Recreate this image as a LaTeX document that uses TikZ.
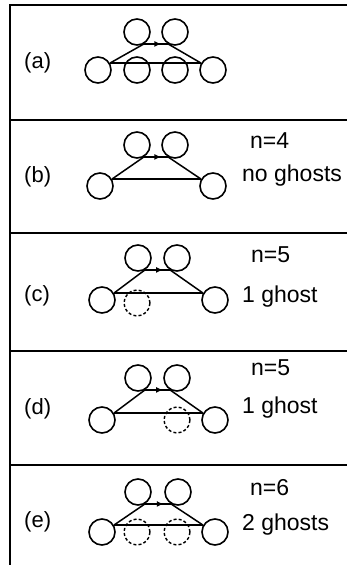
\documentclass[tikz,border=0pt]{standalone}
\usepackage{fontspec}
\setmainfont{Liberation Sans}
\usetikzlibrary{arrows.meta,decorations.markings}

\tikzset{
  ball/.style={circle, draw, line width=1.6pt, minimum size=26pt, inner sep=0pt},
  ghost/.style={ball, line width=1.4pt, dash pattern=on 3pt off 2.2pt},
  bond/.style={line width=1.5pt},
  hop/.style={line width=2.6pt, postaction={decorate},
    decoration={markings, mark=at position 0.72 with {\arrow{Latex[length=7pt,width=6pt]}}}},
  tag/.style={font=\fontsize{22}{24}\selectfont, anchor=base west, inner sep=0pt},
  note/.style={font=\fontsize{23}{25}\selectfont, anchor=base west, inner sep=0pt},
}

\begin{document}
\begin{tikzpicture}[x=1pt,y=-1pt]
\useasboundingbox (0,0) rectangle (347,565);
% frame
\draw [line width=1.4pt] (10,565) -- (10,5) -- (347,5);
\draw [line width=1.4pt] (10,120) -- (347,120);
\draw [line width=1.4pt] (10,233) -- (347,233);
\draw [line width=1.4pt] (10,351) -- (347,351);
\draw [line width=1.4pt] (10,465) -- (347,465);

% (a)
\node [tag] (la) at (24,68) {(a)};
\node [ball] (a1) at (137,32) {};
\node [ball] (a2) at (175,32) {};
\node [ball] (a3) at (98,70) {};
\node [ball] (a4) at (213,70) {};
\node [ball] (a5) at (137,70) {};
\node [ball] (a6) at (175,70) {};
\draw [bond] (a3.30) -- (a1.-60);
\draw [hop] (a1.-60) -- (a2.-120);
\draw [bond] (a2.-120) -- (a4.150);
\draw [bond] (a3.30) -- (a4.150);

% (b)
\node [tag] (lb) at (24,182) {(b)};
\node [ball] (b1) at (137,145) {};
\node [ball] (b2) at (175,145) {};
\node [ball] (b3) at (100,186) {};
\node [ball] (b4) at (213,186) {};
\draw [bond] (b3.30) -- (b1.-60);
\draw [hop] (b1.-60) -- (b2.-120);
\draw [bond] (b2.-120) -- (b4.150);
\draw [bond] (b3.30) -- (b4.150);
\node [note] (nb) at (250,148) {n=4};
\node [note] (gb) at (242,181) {no ghosts};

% (c)
\node [tag] (lc) at (24,301) {(c)};
\node [ball] (c1) at (138,258) {};
\node [ball] (c2) at (177,258) {};
\node [ball] (c3) at (102,300) {};
\node [ball] (c4) at (215,300) {};
\node [ghost] (c5) at (137,303) {};
\draw [bond] (c3.30) -- (c1.-60);
\draw [hop] (c1.-60) -- (c2.-120);
\draw [bond] (c2.-120) -- (c4.150);
\draw [bond] (c3.30) -- (c4.150);
\node [note] (nc) at (251,262) {n=5};
\node [note] (gc) at (242,302) {1 ghost};

% (d)
\node [tag] (ld) at (24,414) {(d)};
\node [ball] (d1) at (138,378) {};
\node [ball] (d2) at (177,378) {};
\node [ball] (d3) at (102,420) {};
\node [ball] (d4) at (215,420) {};
\node [ghost] (d5) at (177,420) {};
\draw [bond] (d3.30) -- (d1.-60);
\draw [hop] (d1.-60) -- (d2.-120);
\draw [bond] (d2.-120) -- (d4.150);
\draw [bond] (d3.30) -- (d4.150);
\node [note] (nd) at (251,375) {n=5};
\node [note] (gd) at (242,413) {1 ghost};

% (e)
\node [tag] (le) at (24,527) {(e)};
\node [ball] (e1) at (138,492) {};
\node [ball] (e2) at (178,492) {};
\node [ball] (e3) at (102,532) {};
\node [ball] (e4) at (215,532) {};
\node [ghost] (e5) at (137,532) {};
\node [ghost] (e6) at (177,532) {};
\draw [bond] (e3.30) -- (e1.-60);
\draw [hop] (e1.-60) -- (e2.-120);
\draw [bond] (e2.-120) -- (e4.150);
\draw [bond] (e3.30) -- (e4.150);
\node [note] (ne) at (250,495) {n=6};
\node [note] (ge) at (242,530) {2 ghosts};
\end{tikzpicture}
\end{document}
